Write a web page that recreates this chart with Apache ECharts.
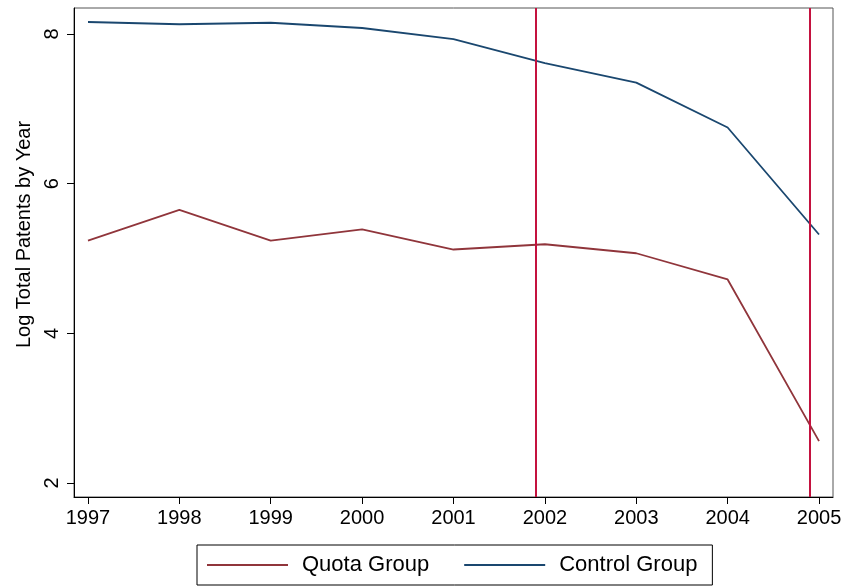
<!DOCTYPE html>
<html>
<head>
<meta charset="utf-8">
<script src="https://cdn.jsdelivr.net/npm/echarts@6/dist/echarts.min.js"></script>
<style>
  html, body { margin: 0; padding: 0; background: #fff; }
  #chart { width: 846px; height: 587px; }
</style>
</head>
<body>
<div id="chart"></div>
<script>
var years = [1997, 1998, 1999, 2000, 2001, 2002, 2003, 2004, 2005];
var quotaGroup = [5.24, 5.65, 5.24, 5.39, 5.12, 5.19, 5.07, 4.72, 2.56];
var controlGroup = [8.16, 8.13, 8.15, 8.08, 7.93, 7.61, 7.35, 6.75, 5.32];
var yTicks = [2, 4, 6, 8];
var eventLines = [2001.9, 2004.9];

function pairs(vals) {
    var out = [];
    for (var i = 0; i < years.length; i++) {
        out.push([years[i], vals[i]]);
    }
    return out;
}

var myChart = echarts.init(document.getElementById('chart'));
var font = 'Liberation Sans, Arial, Helvetica, sans-serif';

myChart.setOption({
    animation: false,
    textStyle: { fontFamily: font },
    grid: {
        left: 74, right: 13, top: 8, bottom: 90,
        show: true,
        borderColor: '#555',
        borderWidth: 1
    },
    legend: {
        left: 197,
        top: 545,
        data: ['Quota Group', 'Control Group'],
        icon: 'rect',
        itemWidth: 81,
        itemHeight: 2,
        itemGap: 35,
        padding: [9, 15, 9, 10],
        borderColor: '#000',
        borderWidth: 1,
        textStyle: {
            fontSize: 22,
            color: '#000',
            fontFamily: font,
            padding: [0, 0, 0, 9]
        }
    },
    xAxis: {
        type: 'value',
        min: 1996.847,
        max: 2005.153,
        splitLine: { show: false },
        axisLine: { lineStyle: { color: '#000', width: 1 } },
        axisTick: {
            length: 7,
            customValues: years,
            lineStyle: { color: '#000' }
        },
        axisLabel: {
            customValues: years,
            fontSize: 20,
            color: '#000',
            margin: 11,
            formatter: function (v) { return String(v); }
        }
    },
    yAxis: {
        type: 'value',
        min: 1.813,
        max: 8.347,
        name: 'Log Total Patents by Year',
        nameLocation: 'middle',
        nameGap: 40,
        nameTextStyle: {
            fontSize: 20,
            color: '#000',
            fontFamily: font,
            padding: [0, 0, 0, 36]
        },
        splitLine: { show: false },
        axisLine: { show: true, lineStyle: { color: '#000', width: 1 } },
        axisTick: {
            show: true,
            length: 7,
            customValues: yTicks,
            lineStyle: { color: '#000' }
        },
        axisLabel: {
            customValues: yTicks,
            rotate: 90,
            fontSize: 20,
            color: '#000',
            margin: 12
        }
    },
    series: [
        {
            name: 'Quota Group',
            type: 'line',
            data: pairs(quotaGroup),
            showSymbol: false,
            color: '#90353b',
            lineStyle: { width: 1.8, color: '#90353b' },
            markLine: {
                silent: true,
                symbol: 'none',
                label: { show: false },
                lineStyle: { color: '#c4123f', width: 2, type: 'solid' },
                data: eventLines.map(function (x) { return { xAxis: x }; })
            }
        },
        {
            name: 'Control Group',
            type: 'line',
            data: pairs(controlGroup),
            showSymbol: false,
            color: '#1a476f',
            lineStyle: { width: 1.8, color: '#1a476f' }
        }
    ]
});
</script>
</body>
</html>
